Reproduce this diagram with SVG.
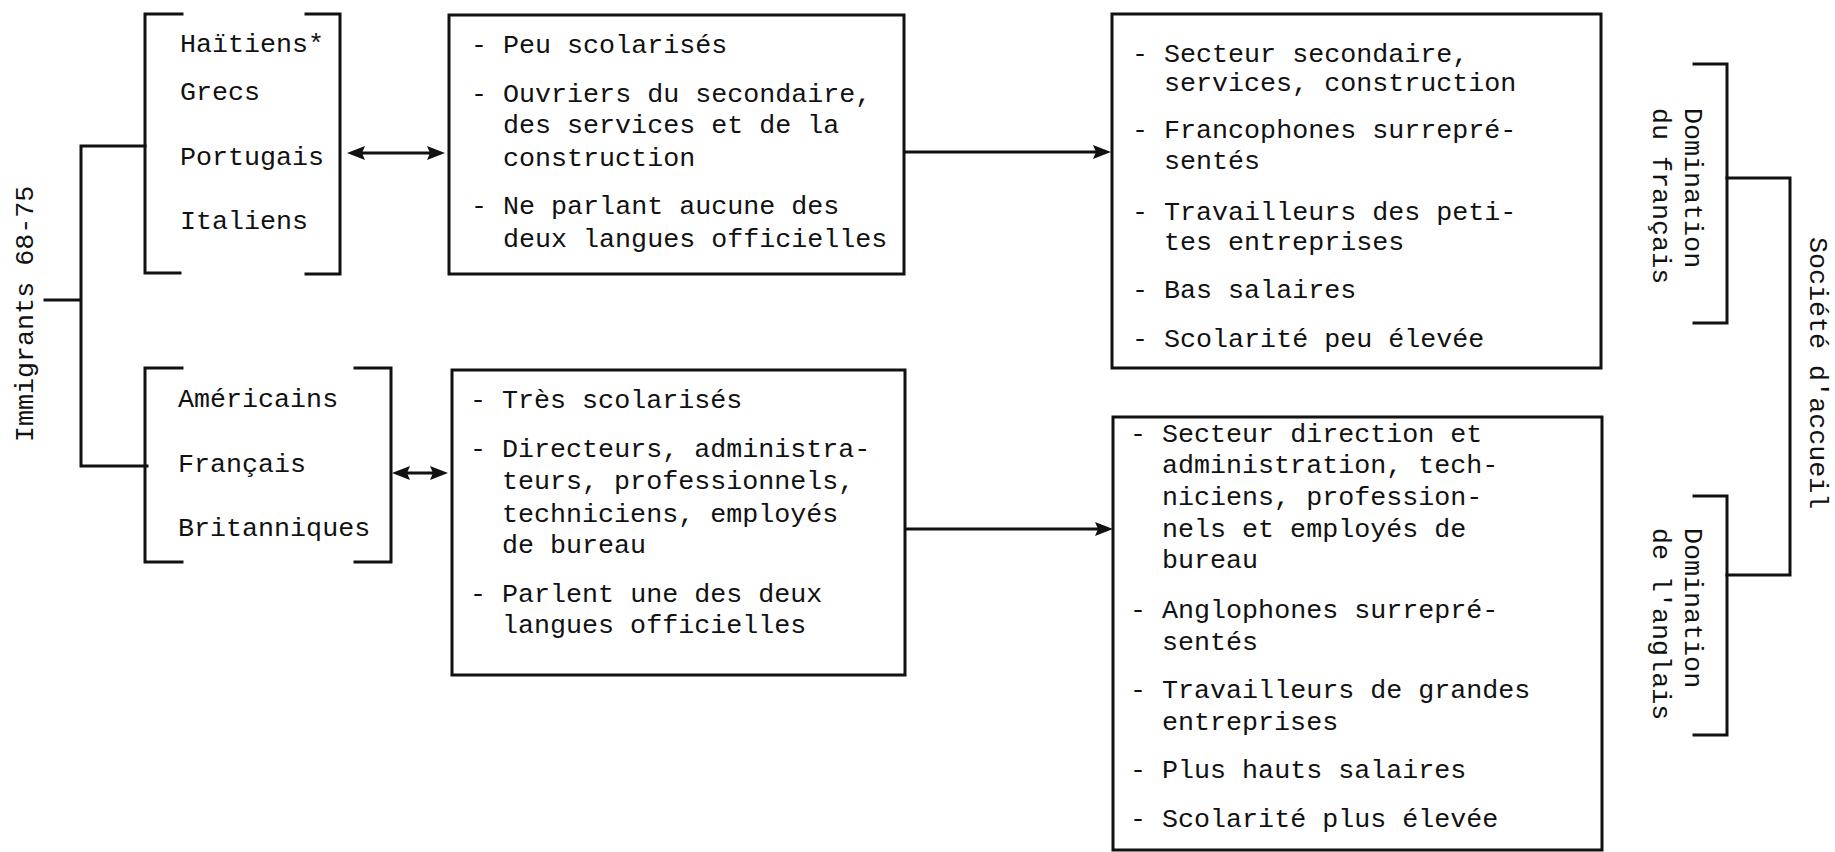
<svg xmlns="http://www.w3.org/2000/svg" width="1835" height="852" viewBox="0 0 1835 852">
<style>
text{font-family:"Liberation Mono","DejaVu Sans Mono",monospace;font-size:26.7px;fill:#111}
.ln{stroke:#111;stroke-width:3;fill:none;stroke-linecap:square}
.box{stroke:#111;stroke-width:3;fill:none}
.arr{stroke:#111;stroke-width:3;fill:none}
</style>
<defs>
<marker id="ah" viewBox="0 0 18 14" refX="9" refY="7" markerWidth="18" markerHeight="14" markerUnits="userSpaceOnUse" orient="auto-start-reverse">
<path d="M0,0 L18,7 L0,14 L3,7 z" fill="#111"/>
</marker>
</defs>
<rect width="1835" height="852" fill="#fff"/>

<g id="connectors">
<path class="ln" d="M145,146 H81 V466 H147 M45,300 H81"/>
<line class="arr" x1="356" y1="153" x2="436" y2="153" marker-start="url(#ah)" marker-end="url(#ah)"/>
<line class="arr" x1="401" y1="473" x2="439" y2="473" marker-start="url(#ah)" marker-end="url(#ah)"/>
<line class="arr" x1="904" y1="152" x2="1102" y2="152" marker-end="url(#ah)"/>
<line class="arr" x1="905" y1="529" x2="1104" y2="529" marker-end="url(#ah)"/>
<path class="ln" d="M1727,178 H1790 V575 H1727"/>
</g>

<g id="label-immigrants">
<text transform="translate(33,442) rotate(-90)">Immigrants 68-75</text>
</g>

<g id="group-top">
<path class="ln" d="M182,14 H145 V273 H180"/>
<path class="ln" d="M306,14 H340 V274 H306"/>
<text x="180" y="52">Haïtiens*</text>
<text x="180" y="100">Grecs</text>
<text x="180" y="165">Portugais</text>
<text x="180" y="229">Italiens</text>
</g>

<g id="group-bottom">
<path class="ln" d="M182,368 H145 V562 H182"/>
<path class="ln" d="M355,368 H391 V562 H355"/>
<text x="178" y="407">Américains</text>
<text x="178" y="472">Français</text>
<text x="178" y="536">Britanniques</text>
</g>

<g id="traits-top">
<rect class="box" x="449" y="15" width="455" height="259"/>
<text x="471" y="53">- Peu scolarisés</text>
<text x="471" y="102">- Ouvriers du secondaire,</text>
<text x="503" y="133">des services et de la</text>
<text x="503" y="166">construction</text>
<text x="471" y="214">- Ne parlant aucune des</text>
<text x="503" y="247">deux langues officielles</text>
</g>

<g id="traits-bottom">
<rect class="box" x="452" y="370" width="453" height="305"/>
<text x="470" y="408">- Très scolarisés</text>
<text x="470" y="457">- Directeurs, administra-</text>
<text x="502" y="489">teurs, professionnels,</text>
<text x="502" y="522">techniciens, employés</text>
<text x="502" y="553">de bureau</text>
<text x="470" y="602">- Parlent une des deux</text>
<text x="502" y="633">langues officielles</text>
</g>

<g id="society-top">
<rect class="box" x="1112" y="14" width="489" height="354"/>
<text x="1132" y="62">- Secteur secondaire,</text>
<text x="1164" y="91">services, construction</text>
<text x="1132" y="138">- Francophones surrepré-</text>
<text x="1164" y="169">sentés</text>
<text x="1132" y="220">- Travailleurs des peti-</text>
<text x="1164" y="250">tes entreprises</text>
<text x="1132" y="298">- Bas salaires</text>
<text x="1132" y="347">- Scolarité peu élevée</text>
</g>

<g id="society-bottom">
<rect class="box" x="1113" y="417" width="489" height="433"/>
<text x="1130" y="442">- Secteur direction et</text>
<text x="1162" y="473">administration, tech-</text>
<text x="1162" y="505">niciens, profession-</text>
<text x="1162" y="537">nels et employés de</text>
<text x="1162" y="568">bureau</text>
<text x="1130" y="618">- Anglophones surrepré-</text>
<text x="1162" y="650">sentés</text>
<text x="1130" y="698">- Travailleurs de grandes</text>
<text x="1162" y="730">entreprises</text>
<text x="1130" y="778">- Plus hauts salaires</text>
<text x="1130" y="827">- Scolarité plus élevée</text>
</g>

<g id="domination-fr">
<path class="ln" d="M1694,64 H1727 V323 H1694"/>
<text transform="translate(1685,108) rotate(90)">Domination</text>
<text transform="translate(1653,108) rotate(90)">du français</text>
</g>

<g id="domination-en">
<path class="ln" d="M1694,496 H1727 V735 H1694"/>
<text transform="translate(1685,528) rotate(90)">Domination</text>
<text transform="translate(1653,528) rotate(90)">de l'anglais</text>
</g>

<g id="label-societe">
<text transform="translate(1810,237) rotate(90)">Société d'accueil</text>
</g>
</svg>
